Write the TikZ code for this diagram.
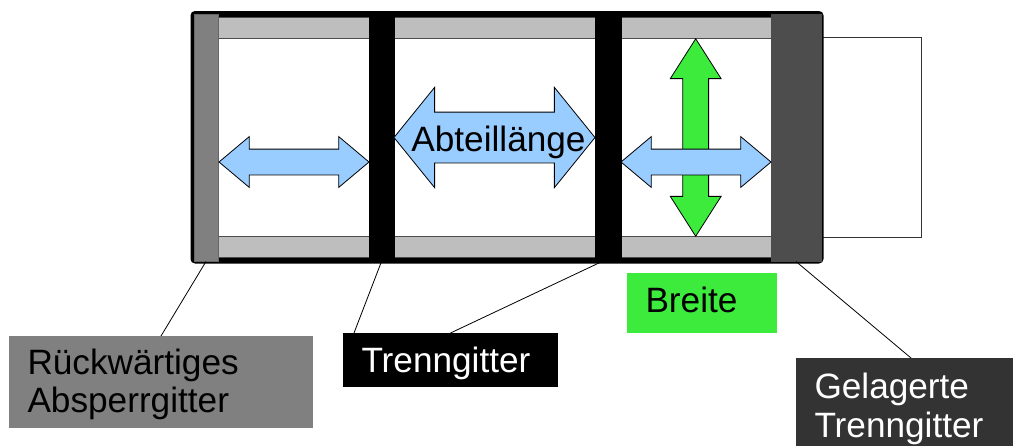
\documentclass[tikz,border=0pt]{standalone}
\usepackage{fontspec}
\setmainfont{Liberation Sans}
\usetikzlibrary{shapes.arrows,positioning}
\definecolor{band}{HTML}{BEBEBE}
\definecolor{reargray}{HTML}{808080}
\definecolor{storegray}{HTML}{4D4D4D}
\definecolor{storelabel}{HTML}{333333}
\definecolor{widthgreen}{HTML}{3DEB3D}
\definecolor{lengthblue}{HTML}{99CCFF}

\begin{document}
\begin{tikzpicture}[x=1pt,y=-1pt]
\tikzset{every node/.style={inner sep=0pt,outer sep=0pt,line width=0.8pt,font=\fontsize{35.2}{38.5}\selectfont},
part/.style={draw,rectangle,minimum width=#1},
band-box/.style={part=#1,fill=band,draw=black!70,minimum height=21pt},
grid-box/.style={part=#1,minimum height=247pt},
tag/.style={rectangle,align=left,inner xsep=18.5pt,text depth=0pt,minimum height=#1},
flat-arrow/.style={double arrow,draw,fill=lengthblue,minimum height=150pt,minimum width=50pt,inner ysep=12.5pt,double arrow head extend=12.5pt,double arrow tip angle=80}}
\useasboundingbox (0,0) rectangle (1013,445);

% back of the cage
\node[part=100pt,minimum height=200pt,draw=black!80] (drawer) at (871,137.5) {};
\node[part=627pt,minimum height=246.5pt,rounded corners=2pt,line width=6pt,fill=white] (frame) at (507,137.25) {};

% bands along the top and the bottom
\node[band-box=151pt] (top-a) at (293.5,27.5) {};
\node[band-box=201pt] (top-b) at (494.5,27.5) {};
\node[band-box=150pt] (top-c) at (696,27.5) {};
\node[band-box=151pt] (bottom-a) at (293.5,246.5) {};
\node[band-box=201pt] (bottom-b) at (494.5,246.5) {};
\node[band-box=150pt] (bottom-c) at (696,246.5) {};

% the grids
\node[grid-box=24pt,fill=reargray,draw=black!60] (rear-grid) at (206,138) {};
\node[grid-box=25pt,fill=black] (sep-a) at (381.5,138) {};
\node[grid-box=26pt,fill=black] (sep-b) at (608,138) {};
\node[grid-box=50pt,fill=storegray,draw=black!70] (store-grid) at (796,138) {};

% arrows
\node[flat-arrow] (length-a) at (294,162) {};
\node[flat-arrow,inner ysep=0pt,inner xsep=12.5pt,shape border rotate=90,fill=widthgreen,minimum height=197.5pt,double arrow tip angle=65] (width-arrow) at (695.7,137.5) {};
\node[flat-arrow] (length-c) at (696,162) {};
\node[flat-arrow,inner ysep=25pt,minimum height=201pt,minimum width=99pt,double arrow head extend=24.75pt,double arrow tip angle=102] (length-b) at (494.5,137.5) {\makebox[120pt]{\hspace{8pt}\smash{\raisebox{-14pt}{Abteillänge}}}};

% labels
\node[tag=92pt,text width=267pt,text height=26pt,text depth=42pt,fill=reargray] (rear-label) at (161,382) {Rückwärtiges\\Absperrgitter};
\node[tag=54pt,text width=178pt,text height=24pt,fill=black,text=white] (sep-label) at (450.5,360) {Trenngitter};
\node[tag=60pt,text width=113pt,text height=19pt,fill=widthgreen] (width-label) at (702,303) {Breite};
\node[tag=100pt,text width=193pt,text height=26pt,text depth=44.5pt,fill=storelabel,text=white] (store-label) at (911,408) {Gelagerte\\Trenngitter};
\coordinate (sep-corner) at (354,333);
\coordinate (sep-foot) at (601,262);

\path[draw,line width=0.8pt]
(rear-grid.south) edge (rear-label.north)
(sep-a.south) edge (sep-corner)
(sep-foot) edge (sep-label.north)
(store-grid.south) edge (store-label.north);
\end{tikzpicture}
\end{document}
